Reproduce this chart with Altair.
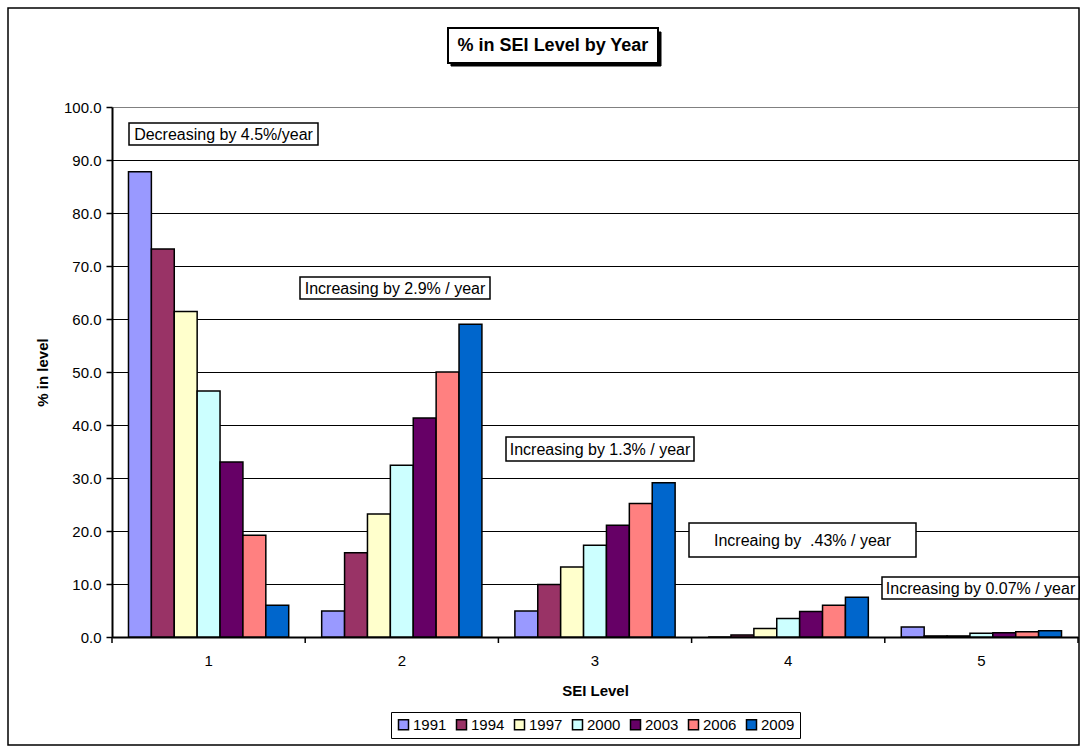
import altair as alt
import pandas as pd

# SEI level categories and survey years
levels = ["1", "2", "3", "4", "5"]
years = ["1991", "1994", "1997", "2000", "2003", "2006", "2009"]

# percentage of people in each SEI level, one list per survey year
pct_1991 = [87.8, 4.9, 4.9, 0.0, 1.9]
pct_1994 = [73.2, 15.9, 9.9, 0.4, 0.2]
pct_1997 = [61.4, 23.2, 13.2, 1.6, 0.2]
pct_2000 = [46.4, 32.4, 17.3, 3.5, 0.7]
pct_2003 = [33.0, 41.3, 21.1, 4.8, 0.8]
pct_2006 = [19.2, 50.0, 25.2, 6.0, 1.0]
pct_2009 = [6.0, 59.0, 29.1, 7.5, 1.2]

year_colors = ["#9999FF", "#993366", "#FFFFCC", "#CCFFFF", "#660066", "#FF8080", "#0066CC"]

title_text = "% in SEI Level by Year"
note_texts = [
    "Decreasing by 4.5%/year",
    "Increasing by 2.9% / year",
    "Increasing by 1.3% / year",
    "Increaing by \u00a0.43% / year",
    "Increasing by 0.07% / year",
]

series = [pct_1991, pct_1994, pct_1997, pct_2000, pct_2003, pct_2006, pct_2009]
rows = []
for yr, vals in zip(years, series):
    for lv, v in zip(levels, vals):
        rows.append({"level": lv, "year": yr, "pct": v})
df = pd.DataFrame(rows)

W, H = 966, 530
FONT = "Liberation Sans"

x_enc = alt.X(
    "level:N",
    sort=levels,
    title="SEI Level",
    scale=alt.Scale(paddingInner=0, paddingOuter=0),
    axis=alt.Axis(
        labelAngle=0,
        ticks=False,
        labelPadding=16,
        labelFontSize=15,
        labelColor="black",
        domainColor="black",
        domainWidth=2,
        titleFontSize=15,
        titleFontWeight="bold",
        titleColor="black",
        titleY=53,
        titleBaseline="middle",
    ),
)

bars = alt.Chart(df).mark_bar(stroke="black", strokeWidth=1.5).encode(
    x=x_enc,
    xOffset=alt.XOffset(
        "year:N", sort=years, scale=alt.Scale(paddingInner=0, paddingOuter=0.72)
    ),
    y=alt.Y(
        "pct:Q",
        title="% in level",
        scale=alt.Scale(domain=[0, 100], nice=False),
        axis=alt.Axis(
            values=list(range(0, 101, 10)),
            format=".1f",
            grid=True,
            gridColor={"condition": {"test": "datum.value >= 100", "value": "#808080"}, "value": "black"},
            gridWidth=1,
            tickSize=6,
            tickColor="black",
            tickWidth=1.5,
            labelPadding=5,
            labelFontSize=15,
            labelColor="black",
            domainColor="black",
            domainWidth=2,
            titleFontSize=15,
            titleFontWeight="bold",
            titleColor="black",
            titleX=-70,
            titleY=H / 2,
            titleAngle=270,
            titleAlign="center",
            titleBaseline="middle",
        ),
    ),
    fill=alt.Fill(
        "year:N",
        sort=years,
        scale=alt.Scale(domain=years, range=year_colors),
        legend=alt.Legend(
            title=None,
            orient="none",
            direction="horizontal",
            legendX=279,
            legendY=605,
            symbolType="square",
            symbolSize=100,
            symbolStrokeColor="black",
            symbolStrokeWidth=1.5,
            labelFontSize=15,
            labelColor="black",
            labelOffset=2,
            columnPadding=6,
            padding=5,
            strokeColor="black",
            fillColor="white",
        ),
    ),
)

# tick marks on category boundaries of the x axis
tick_df = pd.DataFrame({"level": levels})
bound_ticks = alt.Chart(tick_df).mark_rule(color="black", strokeWidth=1.5).encode(
    x=alt.X("level:N", sort=levels, title="SEI Level", bandPosition=0),
    y=alt.value(H),
    y2=alt.value(H + 6),
)
end_tick = alt.Chart(tick_df).transform_filter(
    alt.datum.level == levels[-1]
).mark_rule(color="black", strokeWidth=1.5).encode(
    x=alt.X("level:N", sort=levels, title="SEI Level", bandPosition=1),
    y=alt.value(H),
    y2=alt.value(H + 6),
)


def box(x0, y0, x1, y1, fill="white", stroke="black", width=1.5):
    return alt.Chart(pd.DataFrame({"k": [0]})).mark_rect(
        fill=fill, stroke=stroke, strokeWidth=width
    ).encode(x=alt.value(x0), x2=alt.value(x1), y=alt.value(y0), y2=alt.value(y1))


def label(text, cx, cy, size=16, weight="normal"):
    return alt.Chart(pd.DataFrame({"t": [text]})).mark_text(
        font=FONT, fontSize=size, fontWeight=weight, color="black",
        align="center", baseline="middle",
    ).encode(x=alt.value(cx), y=alt.value(cy), text="t:N")


# boxed trend notes
note_boxes = [
    (17, 16, 206, 38),
    (188, 170, 378, 192),
    (394, 330, 582, 354),
    (577, 416, 804, 450),
    (770, 470, 967, 492),
]
notes = []
for txt, (x0, y0, x1, y1) in zip(note_texts, note_boxes):
    notes.append(box(x0, y0, x1, y1))
    notes.append(label(txt, (x0 + x1) / 2, (y0 + y1) / 2 + 0.5))

# chart frame and boxed title with drop shadow
frame = box(-104, -99, 967, 638, fill="transparent", width=1.5)
title_layers = [
    box(339, -75, 549, -41, fill="black", stroke="black", width=1),
    box(336, -79, 546, -44, fill="white", stroke="black", width=2),
    label(title_text, 441, -61, size=18, weight="bold"),
]

chart = alt.layer(
    frame, bars, bound_ticks, end_tick, *notes, *title_layers
).properties(
    width=W,
    height=H,
    autosize=alt.AutoSizeParams(type="none"),
    padding={"left": 112, "top": 107, "right": 10, "bottom": 118},
    background="white",
).configure(
    font=FONT,
).configure_view(
    stroke=None,
)

chart.save("out.html", embed_options={"renderer": "svg", "actions": False})
